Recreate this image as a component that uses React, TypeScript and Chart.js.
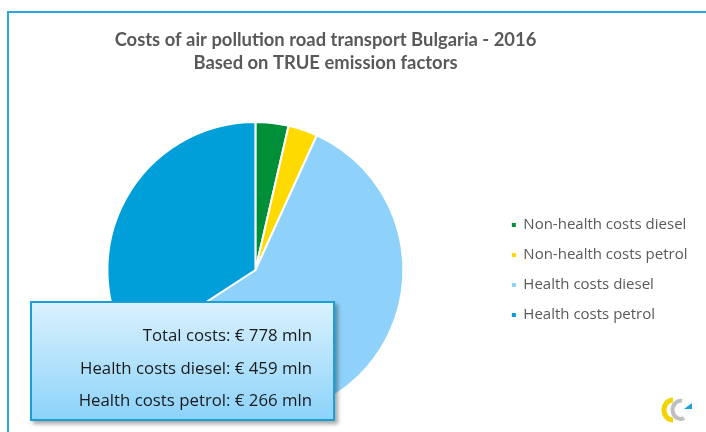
import React, { useEffect, useRef } from "react";
import { Chart, registerables } from "chart.js";

Chart.register(...registerables);

const titleLines = [
  "Costs of air pollution road transport Bulgaria - 2016",
  "Based on TRUE emission factors",
];
const categories = [
  "Non-health costs diesel",
  "Non-health costs petrol",
  "Health costs diesel",
  "Health costs petrol",
];
const costs = [28, 25, 459, 266];
const sliceColors = ["#008F39", "#FFDA00", "#8ED2FB", "#009FD9"];
const unit = "mln";

const TITLE_FONT = "Lato, 'Open Sans', sans-serif";
const BODY_FONT = "'Open Sans', Lato, sans-serif";

const titleShift = {
  id: "titleShift",
  afterLayout(chart: any) {
    const t = chart.titleBlock;
    if (t) {
      t.left = 0;
      t.right = 651;
    }
  },
};

export default function App() {
  const canvasRef = useRef<HTMLCanvasElement | null>(null);

  useEffect(() => {
    const canvas = canvasRef.current;
    if (!canvas) return;
    const baseLabels = (Chart as any).overrides.pie.plugins.legend.labels.generateLabels;
    const chart = new Chart(canvas, {
      type: "pie",
      data: {
        labels: categories,
        datasets: [
          {
            data: costs,
            backgroundColor: sliceColors,
            borderColor: "#FFFFFF",
            borderWidth: 2,
          },
        ],
      },
      options: {
        animation: false,
        responsive: false,
        maintainAspectRatio: false,
        layout: { padding: { top: 12, left: 14, right: 8.5, bottom: 13 } },
        plugins: {
          title: {
            display: true,
            text: titleLines,
            color: "#595959",
            font: { family: TITLE_FONT, size: 18.4, weight: "bold", lineHeight: "23px" },
            padding: { top: 16.5, bottom: 46.5 },
          },
          legend: {
            display: true,
            position: "right",
            align: "center",
            fullSize: false,
            labels: {
              boxWidth: 4,
              boxHeight: 4,
              padding: 15,
              color: "#595959",
              font: { family: BODY_FONT, size: 15 },
              generateLabels: (c: any) =>
                baseLabels(c).map((l: any) => ({ ...l, lineWidth: 0, strokeStyle: "rgba(0,0,0,0)" })),
            },
          },
          tooltip: { enabled: false },
        },
      },
      plugins: [titleShift],
    });
    return () => chart.destroy();
  }, []);

  const total = costs.reduce((a, b) => a + b, 0);
  const boxLines = [
    `Total costs: € ${total} ${unit}`,
    `${categories[2]}: € ${costs[2]} ${unit}`,
    `${categories[3]}: € ${costs[3]} ${unit}`,
  ];

  return (
    <div
      style={{
        position: "fixed",
        left: 0,
        top: 0,
        width: 706,
        height: 432,
        overflow: "hidden",
        background: "#FFFFFF",
      }}
    >
      <div
        style={{
          position: "absolute",
          left: 7,
          top: 11,
          width: 760,
          height: 480,
          border: "2px solid #2AA8DE",
          boxSizing: "border-box",
        }}
      />
      <canvas
        ref={canvasRef}
        width={706}
        height={432}
        style={{ position: "absolute", left: 0, top: 0, width: 706, height: 432 }}
      />
      <div
        style={{
          position: "absolute",
          left: 30,
          top: 301,
          width: 305,
          height: 120,
          boxSizing: "border-box",
          border: "2px solid #1C9FD7",
          background: "linear-gradient(#D9F1FD, #8DD3FA)",
          boxShadow: "3px 3px 4px rgba(0,0,0,0.35)",
          fontFamily: BODY_FONT,
          fontSize: 16.8,
          color: "#1A1A1A",
          textAlign: "right",
          paddingRight: 21,
          paddingTop: 20,
        }}
      >
        {boxLines.map((t, i) => (
          <div key={i} style={{ height: 32.5, lineHeight: "24px" }}>
            {t}
          </div>
        ))}
      </div>
      <svg
        width={34}
        height={30}
        viewBox="0 0 34 30"
        style={{ position: "absolute", left: 660, top: 395 }}
      >
        <path d="M13 5 A9 10 0 1 0 13 25" fill="none" stroke="#F2D500" strokeWidth={5} />
        <path d="M22 6 A8 9 0 1 0 24 23" fill="none" stroke="#BFBFBF" strokeWidth={4} />
        <path d="M24 14 L32 8 L32 14 Z" fill="#1DA0DC" />
      </svg>
    </div>
  );
}
